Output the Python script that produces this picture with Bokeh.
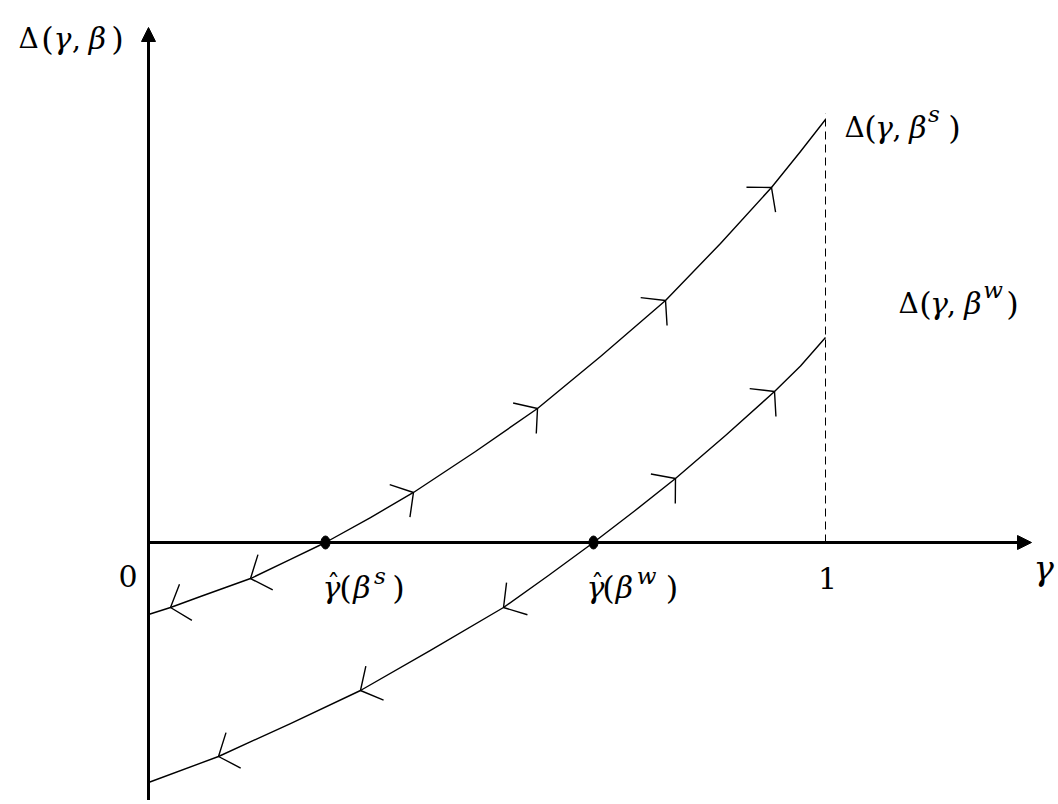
import numpy as np
from bokeh.plotting import figure
from bokeh.models import Range1d, Arrow, NormalHead
from bokeh.core.properties import value
from bokeh.embed import file_html
from bokeh.resources import INLINE

# ---------------- data ----------------
# curve Delta(gamma, beta^s)
gamma_s = [0.0, 0.0325, 0.0768, 0.1507, 0.2097, 0.2614, 0.3279, 0.3914,
           0.4830, 0.5746, 0.6677, 0.7637, 0.8449, 0.9202, 0.9631, 1.0]
delta_s = [-0.1064, -0.0960, -0.0798, -0.0532, -0.0251, 0.0, 0.0369, 0.0739,
           0.1344, 0.1979, 0.2747, 0.3575, 0.4417, 0.5244, 0.5775, 0.6248]
# curve Delta(gamma, beta^w)
gamma_w = [0.0, 0.1034, 0.2097, 0.3131, 0.4165, 0.5244, 0.5908, 0.6573,
           0.7179, 0.7784, 0.8523, 0.9247, 0.9631, 1.0]
delta_w = [-0.3545, -0.3161, -0.2674, -0.2186, -0.1595, -0.0960, -0.0487, 0.0,
           0.0465, 0.0945, 0.1580, 0.2230, 0.2607, 0.3028]
# positions of the direction arrows along each curve
arrows_s = [0.0325, 0.1507, 0.3914, 0.5746, 0.7637, 0.9202]
arrows_w = [0.1034, 0.3131, 0.5244, 0.7784, 0.9247]
# roots gamma_hat(beta)
roots = [0.2614, 0.6573]
# tick labels
tick_vals = [0.0, 1.0]
tick_labels = ["0", "1"]
x_axis_label = "γ"
dashed_top = 0.634

# ---------------- figure ----------------
PX = 677.0             # pixels per unit (both axes)
OX, OY = 148.0, 542.0  # page position of the origin
W, H = 1058, 800

p = figure(width=W, height=H, output_backend="svg", toolbar_location=None,
           x_range=Range1d((0 - OX) / PX, (W - OX) / PX),
           y_range=Range1d((OY - H) / PX, OY / PX),
           x_axis_location=None, y_axis_location=None, min_border=0)
p.grid.visible = False
p.outline_line_color = None
p.background_fill_color = "white"
p.border_fill_color = "white"

# curves
for g, d in ((gamma_s, delta_s), (gamma_w, delta_w)):
    p.line(g, d, line_color="black", line_width=1.4, line_join="round")

# direction chevrons
L = 25.0 / PX
half = np.deg2rad(50)
for g, d, arr in ((gamma_s, delta_s, arrows_s), (gamma_w, delta_w, arrows_w)):
    g = np.array(g); d = np.array(d)
    xs, ys = [], []
    for a in arr:
        ty = np.interp(a, g, d)
        h = 0.01
        m = (np.interp(a + h, g, d) - np.interp(a - h, g, d)) / (2 * h)
        sgn = 1.0 if ty > 0 else -1.0
        fx, fy = sgn / np.hypot(1, m), sgn * m / np.hypot(1, m)
        bang = np.arctan2(-fy, -fx)
        w1 = (a + L * np.cos(bang + half), ty + L * np.sin(bang + half))
        w2 = (a + L * np.cos(bang - half), ty + L * np.sin(bang - half))
        xs.append([w1[0], a, w2[0]]); ys.append([w1[1], ty, w2[1]])
    p.multi_line(xs, ys, line_color="black", line_width=1.4)

# dashed line at gamma = 1
p.line([1.0, 1.0], [0.0, dashed_top], line_color="black", line_width=1,
       line_dash="8 5")

# axes with arrow heads
p.add_layout(Arrow(x_start=0, y_start=-0.40, x_end=0, y_end=(OY - 27) / PX,
                   line_width=3, line_color="black",
                   end=NormalHead(size=14, fill_color="black", line_color="black", line_width=1)))
p.add_layout(Arrow(x_start=-0.002, y_start=0, x_end=(1031 - OX) / PX, y_end=0,
                   line_width=3, line_color="black",
                   end=NormalHead(size=14, fill_color="black", line_color="black", line_width=1)))

# root dots
p.ellipse(x=roots, y=[0, 0], width=9, height=13, width_units="screen",
          height_units="screen", fill_color="black", line_color="black")

# ---------------- texts ----------------
FONT = "DejaVu Serif"

def txt(s, cx, base, size, italic=False, align="center"):
    p.text(x=[(cx - OX) / PX], y=[(OY - base) / PX], text=[s],
           text_font=value(FONT), text_font_size=f"{size}px",
           text_font_style="italic" if italic else "normal",
           text_align=align, text_baseline="alphabetic", text_color="black")

def delta_label(x0, base, centers, sup=None):
    # Δ(γ, β^sup) built from pieces so the Greek letters can be italic
    cD, cL, cG, cC, cB, cS, cR = centers
    txt("Δ", x0 + cD, base, 28)
    txt("(", x0 + cL, base, 32)
    txt("γ", x0 + cG, base, 30, italic=True)
    txt(",", x0 + cC, base, 28)
    txt("β", x0 + cB, base, 30, italic=True)
    if sup is not None:
        txt(sup, x0 + cS, base - 14, 23, italic=True)
    txt(")", x0 + cR, base, 32)

def hat_label(base, centers, sup):
    cG, cL, cB, cS, cR = centers
    txt("γ", cG, base, 30, italic=True)
    txt("\u02c6", cG + 2, base - 4, 26)
    txt("(", cL, base, 32)
    txt("β", cB, base, 30, italic=True)
    txt(sup, cS, base - 12, 23, italic=True)
    txt(")", cR, base, 32)

delta_label(15, 38, (13, 32, 47, 61, 82, None, 102))           # y-axis label
delta_label(843, 127, (11, 27, 40.5, 53.5, 74.5, 90.5, 111), "s")
delta_label(898, 303, (10, 27, 40.5, 53, 74.5, 94.5, 114), "w")
hat_label(587, (331, 345, 361.5, 379.5, 398), "s")
hat_label(587, (595, 608, 624, 646, 671.5), "w")

txt(tick_labels[0], OX - 11 + tick_vals[0] * PX, 575, 30, align="right")
txt(tick_labels[1], OX + tick_vals[1] * PX + 2, 577, 30)
txt(x_axis_label, 1033, 567, 34, italic=True, align="left")

open("out.html", "w").write(file_html(p, INLINE))
